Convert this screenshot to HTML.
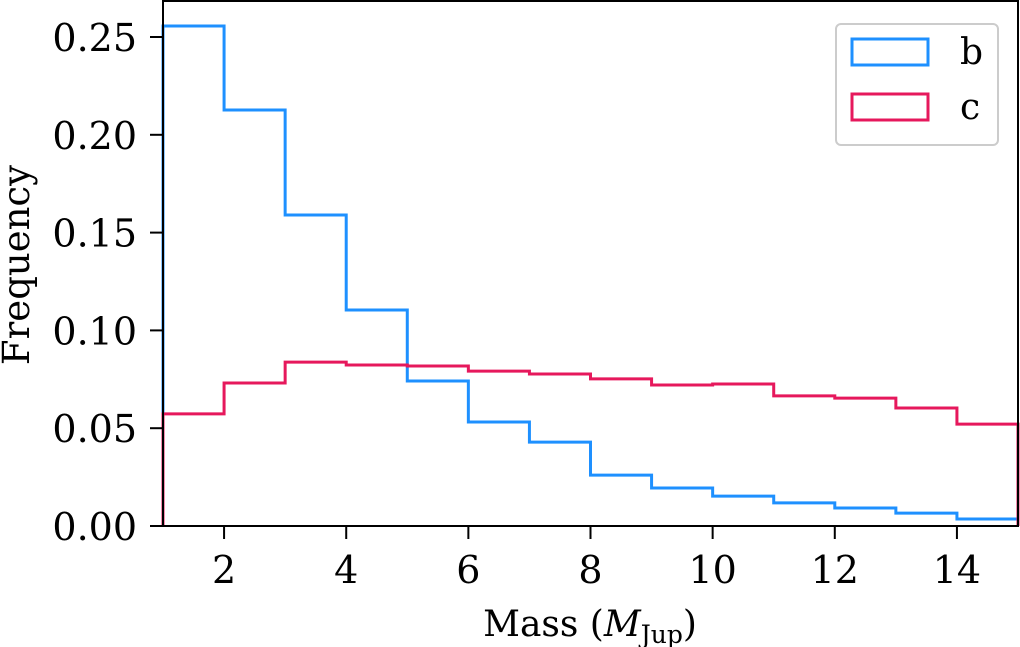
<!DOCTYPE html>
<html><head><meta charset="utf-8"><style>
body{margin:0;background:#fff}
svg{display:block;font-family:"DejaVu Serif","Liberation Serif",serif}
</style></head><body>
<svg id="chart" width="1020" height="647"></svg>
<script>
const binEdges=[1,2,3,4,5,6,7,8,9,10,11,12,13,14,15];
const seriesB=[0.2556,0.2127,0.159,0.1104,0.0741,0.0532,0.0429,0.026,0.0194,0.0153,0.0118,0.0092,0.0066,0.0036];
const seriesC=[0.0573,0.0731,0.0838,0.0823,0.0818,0.0792,0.0777,0.0752,0.0721,0.0726,0.0665,0.0654,0.0603,0.0521];
const xTicks=[2,4,6,8,10,12,14];
const yTicks=[0,0.05,0.10,0.15,0.20,0.25];
const yTickLabels=["0.00","0.05","0.10","0.15","0.20","0.25"];
const NS="http://www.w3.org/2000/svg";
const svg=document.getElementById('chart');
const L=163,R=1018,T=1,B=526;
const xMin=1,xMax=15;
const X=v=>L+(v-xMin)/(xMax-xMin)*(R-L);
const Y=v=>B-v*1956;
function mk(t,a,p){const e=document.createElementNS(NS,t);for(const k in a)e.setAttribute(k,a[k]);(p||svg).appendChild(e);return e;}
function step(vals,color,name){
  let d=`M${X(binEdges[0])},${B}`;
  vals.forEach((v,i)=>{d+=` L${X(binEdges[i])},${Y(v)} L${X(binEdges[i+1])},${Y(v)}`;});
  d+=` L${X(binEdges[binEdges.length-1])},${B}`;
  const p=mk('path',{d:d,fill:'none',stroke:color,'stroke-width':3});
  
  
}
step(seriesB,'#1e90ff','series-b-step');
step(seriesC,'#e6185c','series-c-step');
const frame=mk('rect',{x:L,y:T,width:R-L,height:B-T,fill:'none',stroke:'#000','stroke-width':2});


xTicks.forEach(v=>{
  mk('line',{x1:X(v),x2:X(v),y1:B,y2:B+13,stroke:'#000','stroke-width':2});
  const t=mk('text',{x:X(v),y:B+57,'text-anchor':'middle','font-size':38});
  t.textContent=v;
  
  
});
yTicks.forEach((v,i)=>{
  mk('line',{x1:L-13,x2:L,y1:Y(v),y2:Y(v),stroke:'#000','stroke-width':2});
  const t=mk('text',{x:L-26,y:Y(v)+14,'text-anchor':'end','font-size':38});
  t.textContent=yTickLabels[i];
  
  
});
const xt=mk('text',{x:590,y:636,'text-anchor':'middle','font-size':36});
xt.innerHTML='Mass (<tspan font-style="italic">M</tspan><tspan font-size="25" dy="7">Jup</tspan><tspan dy="-7">)</tspan>';


const yt=mk('text',{x:0,y:0,'text-anchor':'middle','font-size':37,transform:'translate(29,265) rotate(-90)'});
yt.textContent='Frequency';


const lg=mk('g',{});


mk('rect',{x:836,y:24,width:162,height:121,rx:5,fill:'#fff',stroke:'#ccc','stroke-width':2},lg);
mk('rect',{x:852,y:39,width:76,height:26,fill:'none',stroke:'#1e90ff','stroke-width':3},lg);
mk('rect',{x:852,y:94,width:76,height:26,fill:'none',stroke:'#e6185c','stroke-width':3},lg);
const lb=mk('text',{x:960,y:64,'font-size':36},lg);lb.textContent='b';

const lc=mk('text',{x:960,y:119,'font-size':36},lg);lc.textContent='c';

</script>
</body></html>
